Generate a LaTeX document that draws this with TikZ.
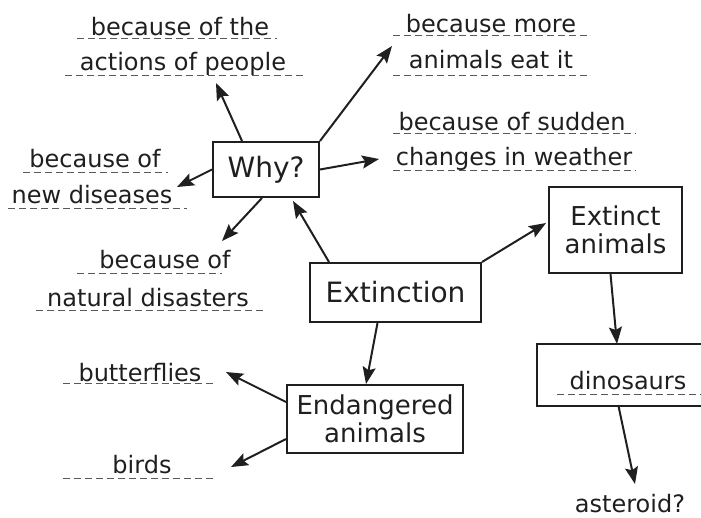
\documentclass[tikz,border=0pt]{standalone}
\usepackage{fontspec}
\setmainfont{DejaVu Sans}
\usetikzlibrary{arrows.meta}
\definecolor{dashgray}{rgb}{0.35,0.35,0.35}
\definecolor{ink}{rgb}{0.12,0.12,0.12}
\tikzset{
  box/.style={draw=ink, text=ink, line width=2pt, inner sep=0pt, align=center,
    font=\fontsize{26}{28}\selectfont},
  lbl/.style={anchor=base, inner sep=0pt, text=ink, font=\fontsize{24}{28}\selectfont},
  uline/.style={dash pattern=on 7pt off 4pt, line width=0.8pt, color=dashgray},
  arr/.style={-{Stealth[length=17pt,width=13pt,inset=3pt]}, line width=2pt, draw=ink, fill=ink}
}
\begin{document}
\begin{tikzpicture}[x=1pt,y=-1pt]
\useasboundingbox (0,0) rectangle (701,517);

% the boxes
\node[box, minimum width=106pt, minimum height=55pt,
  font=\fontsize{28}{32}\selectfont] (why) at (266,169.5) {Why?};
\node[box, minimum width=171pt, minimum height=59pt,
  font=\fontsize{28}{32}\selectfont] (ext) at (395.5,292.5) {Extinction};
\node[box, minimum width=133pt, minimum height=86pt] (extinct) at (615.5,230) {Extinct\\animals};
\node[box, minimum width=176pt, minimum height=68pt] (endang) at (375,419) {Endangered\\animals};
\node[box, draw=none, minimum width=163pt, minimum height=60pt] (dinobox) at (619.5,375) {};
\draw[line width=2pt, ink] (dinobox.north east) -- (dinobox.north west)
  -- (dinobox.south west) -- (dinobox.south east);

% the written lines
\node[lbl] (people1) at (180,35) {because of the};
\node[lbl] (people2) at (183,70) {actions of people};
\node[lbl] (more1) at (491,32) {because more};
\node[lbl] (more2) at (491,68) {animals eat it};
\node[lbl] (sudden1) at (512,130) {because of sudden};
\node[lbl] (sudden2) at (514,165) {changes in weather};
\node[lbl] (dis1) at (95,167) {because of};
\node[lbl] (dis2) at (92,203) {new diseases};
\node[lbl] (nat1) at (165,268) {because of};
\node[lbl] (nat2) at (148,306) {natural disasters};
\node[lbl] (butter) at (140,381) {butterflies};
\node[lbl] (birds) at (142,473) {birds};
\node[lbl] (dino) at (628,389) {dinosaurs};
\node[lbl] (aster) at (630,512) {asteroid?};

\draw[uline] (77,38) -- (277,38);
\draw[uline] (65,75) -- (303,75);
\draw[uline] (393,35) -- (590,35);
\draw[uline] (393,75) -- (590,75);
\draw[uline] (393,133) -- (636,133);
\draw[uline] (393,170) -- (636,170);
\draw[uline] (23,172) -- (168,172);
\draw[uline] (8,208) -- (187,208);
\draw[uline] (77,273) -- (222,273);
\draw[uline] (36,310) -- (263,310);
\draw[uline] (63,383) -- (213,383);
\draw[uline] (63,478) -- (213,478);
\draw[uline] (557,394) -- (701,394);

% arrow tips
\coordinate (tPeople) at (216,83);
\coordinate (tMore) at (392,46);
\coordinate (tSudden) at (379,159);
\coordinate (tDis) at (177,187);
\coordinate (tNat) at (222,241);
\coordinate (tWhy) at (293,201);
\coordinate (tExtinct) at (546,223);
\coordinate (tEndang) at (366,384);
\coordinate (tBut) at (226,372);
\coordinate (tBirds) at (231,467);
\coordinate (tDino) at (617,344);
\coordinate (tAst) at (635,484);

\draw[arr] ([xshift=30pt]why.north west) -- (tPeople);
\draw[arr] (why.north east) -- (tMore);
\draw[arr] (why.east) -- (tSudden);
\draw[arr] (why.west) -- (tDis);
\draw[arr] ([xshift=-4pt]why.south) -- (tNat);
\draw[arr] ([xshift=20pt]ext.north west) -- (tWhy);
\draw[arr] (ext.north east) -- (tExtinct);
\draw[arr] ([xshift=-18pt]ext.south) -- (tEndang);
\draw[arr] ([yshift=17pt]endang.west) -- (tBut);
\draw[arr] ([yshift=-20pt]endang.west) -- (tBirds);
\draw[arr] ([xshift=-5pt]extinct.south) -- (tDino);
\draw[arr] ([xshift=-1pt]dinobox.south) -- (tAst);
\end{tikzpicture}
\end{document}
